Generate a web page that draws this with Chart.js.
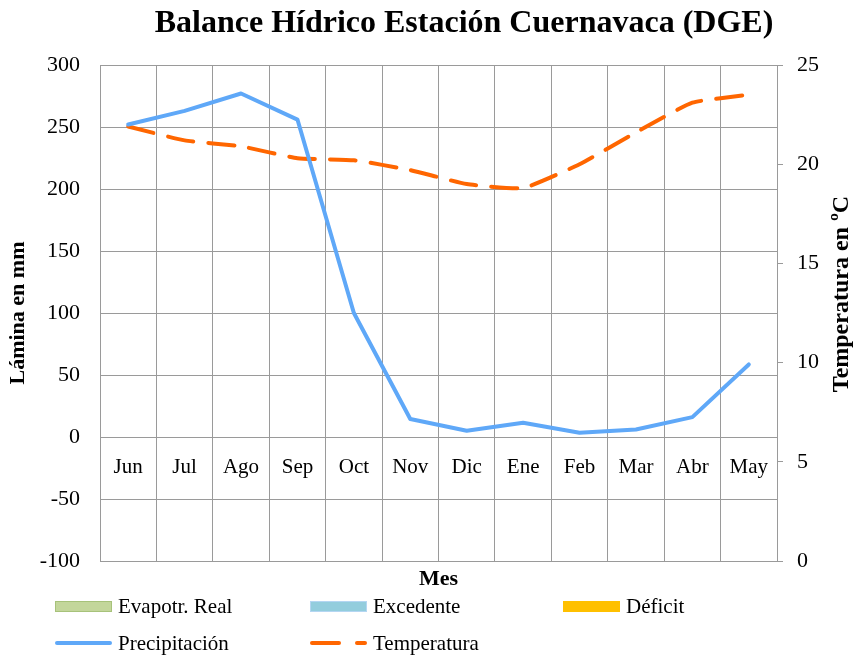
<!DOCTYPE html>
<html>
<head>
<meta charset="utf-8">
<script src="https://cdn.jsdelivr.net/npm/chart.js@4/dist/chart.umd.min.js"></script>
<style>
  html, body { margin: 0; padding: 0; background: #fff; }
  #wrap { position: relative; width: 855px; height: 657px; }
  #legend { position: absolute; left: 0; top: 0; width: 855px; height: 657px; pointer-events: none;
            font-family: "Liberation Serif", serif; font-size: 21px; color: #000; }
  .item { position: absolute; display: flex; align-items: center; height: 26px; white-space: nowrap; }
  .sw { width: 57px; height: 11px; margin-right: 6px; box-sizing: border-box; position: relative; }
</style>
</head>
<body>
<div id="wrap">
  <canvas id="c" width="855" height="657"></canvas>
  <div id="legend"></div>
</div>
<script>
// ---- Data ----
const months = ['Jun', 'Jul', 'Ago', 'Sep', 'Oct', 'Nov', 'Dic', 'Ene', 'Feb', 'Mar', 'Abr', 'May'];
const precipitacion = [252, 263, 277, 256, 100, 14.5, 5, 11.5, 3.5, 6, 16, 58.5];   // mm
const temperatura  = [21.9, 21.2, 20.9, 20.3, 20.2, 19.7, 19.0, 18.8, 20.0, 21.6, 23.1, 23.5]; // ºC
// Series listed in the legend that show no visible marks in the reference
const evapotrReal = [];
const excedente = [];
const deficit = [];
// Axis ranges / ticks
const leftTicks = { min: -100, max: 300, step: 50 };
const rightTicks = { min: 0, max: 25, step: 5 };

const chartTitle = 'Balance Hídrico Estación Cuernavaca (DGE)';
const xTitle = 'Mes';
const yTitle = 'Lámina en mm';
const y1Title = 'Temperatura en ºC';

const SERIF = '"Liberation Serif", serif';
const GRID = '#9a9a9a';

const customText = {
  id: 'customText',
  afterDraw(chart) {
    const ctx = chart.ctx;
    ctx.save();
    ctx.fillStyle = '#000';
    ctx.font = 'bold 32px ' + SERIF;
    ctx.textAlign = 'center';
    ctx.textBaseline = 'middle';
    ctx.fillText(chartTitle, 464, 24);
    ctx.translate(842, 294);
    ctx.rotate(-Math.PI / 2);
    ctx.font = 'bold 24px ' + SERIF;
    ctx.fillText(y1Title, 0, 0);
    ctx.restore();
  }
};

const datasets = [
  { type: 'bar', label: 'Evapotr. Real', data: evapotrReal, backgroundColor: '#c3d69b', borderColor: '#a7c27a', borderWidth: 1, yAxisID: 'y', xAxisID: 'x', legendKind: 'box' },
  { type: 'bar', label: 'Excedente', data: excedente, backgroundColor: '#93cddd', borderColor: '#b4d6f2', borderWidth: 1, yAxisID: 'y', xAxisID: 'x', legendKind: 'box' },
  { type: 'bar', label: 'Déficit', data: deficit, backgroundColor: '#ffc000', borderColor: '#ffc000', borderWidth: 1, yAxisID: 'y', xAxisID: 'x', legendKind: 'box' },
  { type: 'line', label: 'Precipitación', data: precipitacion, borderColor: '#5fa8f8', backgroundColor: '#5fa8f8', borderWidth: 4, pointRadius: 0, tension: 0, fill: false, yAxisID: 'y', xAxisID: 'x', borderCapStyle: 'round', borderJoinStyle: 'round', legendKind: 'line' },
  { type: 'line', label: 'Temperatura', data: temperatura, borderColor: '#ff6600', backgroundColor: '#ff6600', borderWidth: 4, borderDash: [26, 15], borderCapStyle: 'round', borderJoinStyle: 'round', pointRadius: 0, tension: 0.15, fill: false, yAxisID: 'y1', xAxisID: 'x', legendKind: 'dash' }
];

const chart = new Chart(document.getElementById('c'), {
  type: 'line',
  data: { labels: months, datasets: datasets },
  plugins: [customText],
  options: {
    responsive: false,
    devicePixelRatio: 1,
    animation: false,
    layout: { padding: { top: 65, left: 0, right: 0, bottom: 0 } },
    plugins: { legend: { display: false }, title: { display: false }, tooltip: { enabled: false } },
    scales: {
      x: {
        type: 'category',
        position: 'bottom',
        offset: true,
        grid: { display: true, offset: true, color: GRID, lineWidth: 1, drawTicks: false },
        border: { display: true, color: GRID, width: 1 },
        ticks: { display: false },
        title: { display: true, text: xTitle, color: '#000', font: { family: SERIF, size: 22, weight: 'bold' }, padding: { top: 0, bottom: 64 } },
        afterFit: s => { s.height = 96; }
      },
      x2: {
        type: 'category',
        position: { y: 0 },
        offset: true,
        grid: { display: false, drawTicks: false },
        border: { display: false },
        ticks: { color: '#000', font: { family: SERIF, size: 21 }, padding: 18, maxRotation: 0, autoSkip: false }
      },
      y: {
        position: 'left',
        min: leftTicks.min, max: leftTicks.max,
        grid: { color: GRID, lineWidth: 1, drawTicks: false },
        border: { display: true, color: GRID, width: 1 },
        ticks: { stepSize: leftTicks.step, color: '#000', font: { family: SERIF, size: 22 }, padding: 20 },
        title: { display: true, text: yTitle, color: '#000', font: { family: SERIF, size: 22, weight: 'bold' }, padding: { top: 5, bottom: 0 } },
        afterFit: s => { s.width = 100; }
      },
      y1: {
        position: 'right',
        min: rightTicks.min, max: rightTicks.max,
        grid: { drawOnChartArea: false, drawTicks: true, tickLength: 6, color: GRID },
        border: { display: true, color: GRID, width: 1 },
        ticks: { stepSize: rightTicks.step, color: '#000', font: { family: SERIF, size: 22 }, padding: 14 },
        title: { display: false },
        afterFit: s => { s.width = 78; }
      }
    }
  }
});

// ---- HTML legend built from the chart's datasets ----
const legendEl = document.getElementById('legend');
const cols = [55, 310, 563];
const rows = [606, 643];
chart.data.datasets.forEach((ds, i) => {
  const item = document.createElement('div');
  item.className = 'item';
  item.style.left = cols[i % 3] + 'px';
  item.style.top = (rows[Math.floor(i / 3)] - 13) + 'px';
  const sw = document.createElement('div');
  sw.className = 'sw';
  if (ds.legendKind === 'box') {
    sw.style.background = ds.backgroundColor;
    sw.style.border = '1px solid ' + ds.borderColor;
  } else if (ds.legendKind === 'line') {
    sw.style.height = '4px';
    sw.style.background = ds.borderColor;
    sw.style.borderRadius = '2px';
    sw.style.margin = '0 6px 0 0';
  } else {
    sw.style.height = '4px';
    sw.style.background = 'transparent';
    const a = document.createElement('div');
    a.style.cssText = 'position:absolute;left:0;top:0;width:31px;height:4px;border-radius:2px;background:' + ds.borderColor;
    const b = document.createElement('div');
    b.style.cssText = 'position:absolute;left:45px;top:0;width:12px;height:4px;border-radius:2px;background:' + ds.borderColor;
    sw.appendChild(a); sw.appendChild(b);
  }
  const txt = document.createElement('span');
  txt.textContent = ds.label;
  item.appendChild(sw);
  item.appendChild(txt);
  legendEl.appendChild(item);
});
</script>
</body>
</html>
